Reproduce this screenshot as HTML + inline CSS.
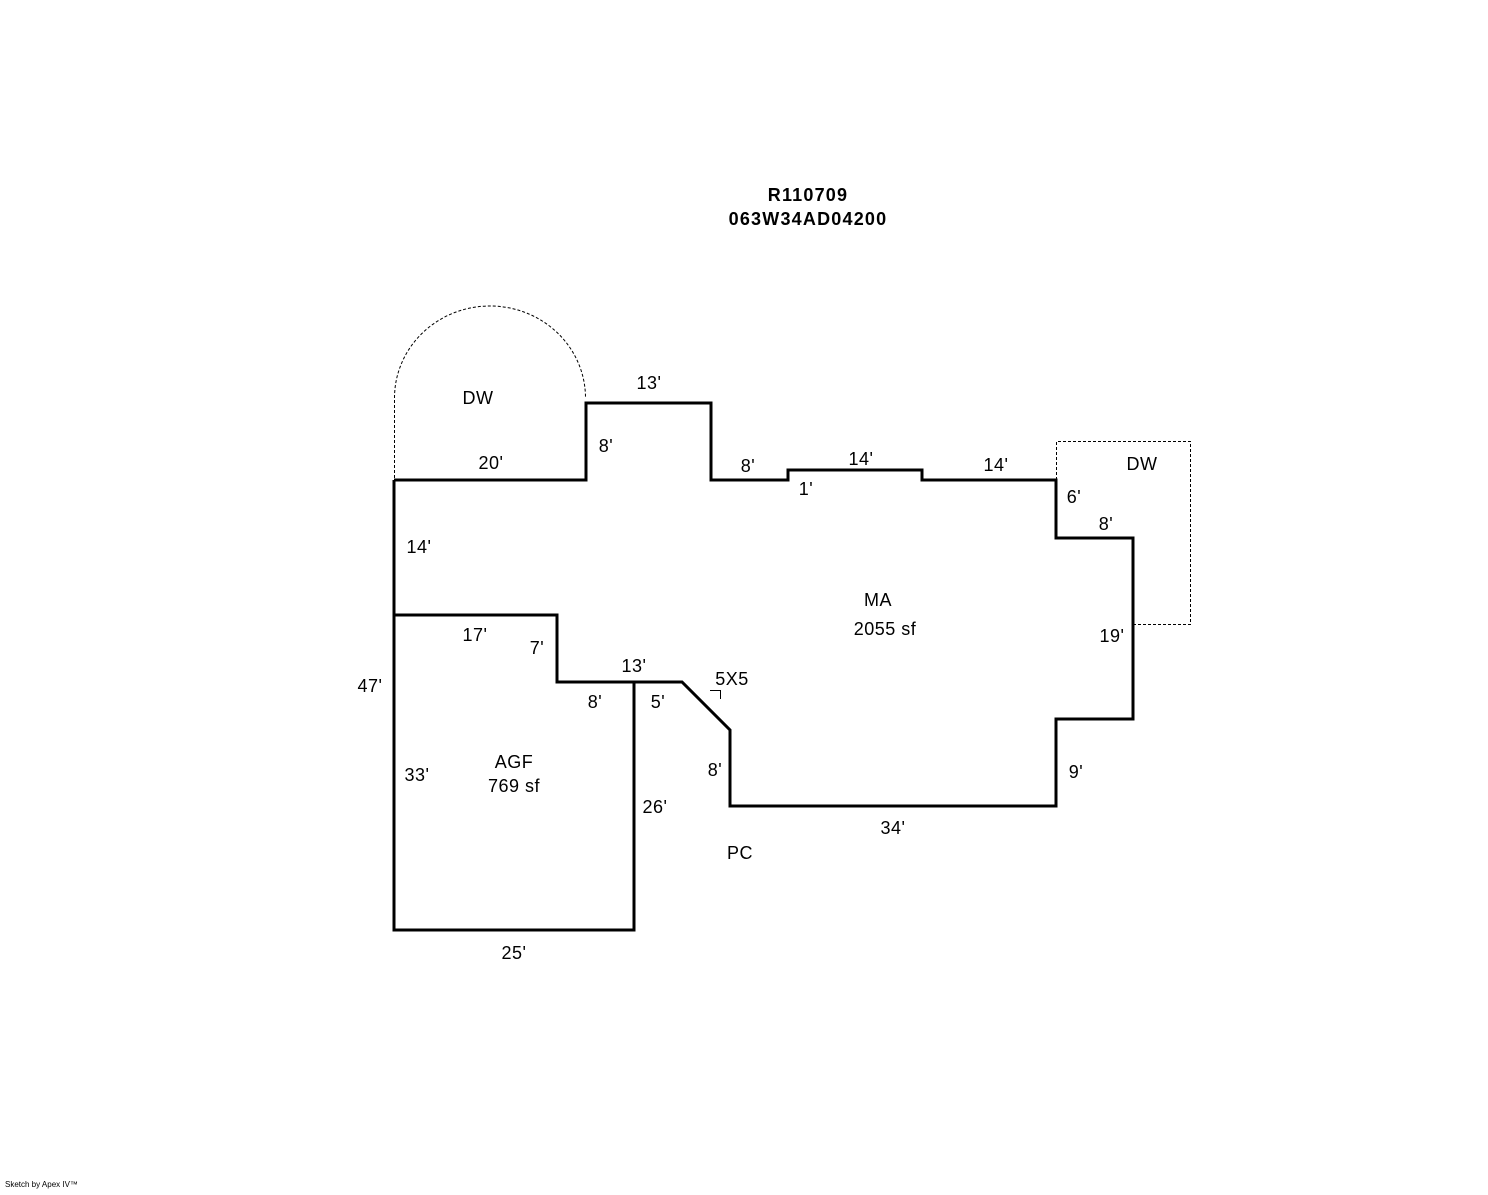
<!DOCTYPE html>
<html><head><style>
body{margin:0;background:#fff;}
svg text{font-family:"Liberation Sans",Arial,sans-serif;font-size:18px;fill:#000;letter-spacing:0.5px;}
</style></head><body>
<svg width="1488" height="1190" viewBox="0 0 1488 1190" xmlns="http://www.w3.org/2000/svg">
<text x="808" y="201" text-anchor="middle" style="font-weight:bold;font-size:18px;letter-spacing:1.2px">R110709</text>
<text x="808" y="225" text-anchor="middle" style="font-weight:bold;font-size:18px;letter-spacing:1.2px">063W34AD04200</text>
<g fill="none" stroke="#000" stroke-width="1" stroke-dasharray="3,2">
<path d="M394.5,478 L394.5,398 A95.5,92 0 0 1 585.5,398"/>
<path d="M1056.5,480 L1056.5,441.5 L1190.5,441.5 L1190.5,624.5 L1133,624.5"/>
</g>
<g fill="none" stroke="#000" stroke-width="3" stroke-linejoin="miter">
<path d="M394,480 L586,480 L586,403 L711,403 L711,480 L788,480 L788,470 L922,470 L922,480 L1056,480 L1056,538 L1133,538 L1133,719 L1056,719 L1056,806 L730,806 L730,730 L682,682 L557,682 L557,615 L394,615"/>
<path d="M394,480 L394,930 L634,930 L634,682"/>
</g>
<path d="M710,690.5 L720.5,690.5 L720.5,699" fill="none" stroke="#000" stroke-width="1"/>
<text x="478" y="404" text-anchor="middle">DW</text>
<text x="649" y="389" text-anchor="middle">13'</text>
<text x="491" y="469" text-anchor="middle">20'</text>
<text x="606" y="452" text-anchor="middle">8'</text>
<text x="748" y="472" text-anchor="middle">8'</text>
<text x="806" y="495" text-anchor="middle">1'</text>
<text x="861" y="465" text-anchor="middle">14'</text>
<text x="996" y="471" text-anchor="middle">14'</text>
<text x="1142" y="470" text-anchor="middle">DW</text>
<text x="1074" y="503" text-anchor="middle">6'</text>
<text x="1106" y="530" text-anchor="middle">8'</text>
<text x="419" y="553" text-anchor="middle">14'</text>
<text x="878" y="606" text-anchor="middle">MA</text>
<text x="885" y="635" text-anchor="middle">2055 sf</text>
<text x="1112" y="642" text-anchor="middle">19'</text>
<text x="475" y="641" text-anchor="middle">17'</text>
<text x="537" y="654" text-anchor="middle">7'</text>
<text x="634" y="672" text-anchor="middle">13'</text>
<text x="732" y="685" text-anchor="middle">5X5</text>
<text x="370" y="692" text-anchor="middle">47'</text>
<text x="595" y="708" text-anchor="middle">8'</text>
<text x="658" y="708" text-anchor="middle">5'</text>
<text x="514" y="768" text-anchor="middle">AGF</text>
<text x="514" y="792" text-anchor="middle">769 sf</text>
<text x="417" y="781" text-anchor="middle">33'</text>
<text x="715" y="776" text-anchor="middle">8'</text>
<text x="1076" y="778" text-anchor="middle">9'</text>
<text x="655" y="813" text-anchor="middle">26'</text>
<text x="893" y="834" text-anchor="middle">34'</text>
<text x="740" y="859" text-anchor="middle">PC</text>
<text x="514" y="959" text-anchor="middle">25'</text>
<text x="5" y="1187" style="font-size:8px;letter-spacing:0">Sketch by Apex IV™</text>
</svg>
</body></html>
